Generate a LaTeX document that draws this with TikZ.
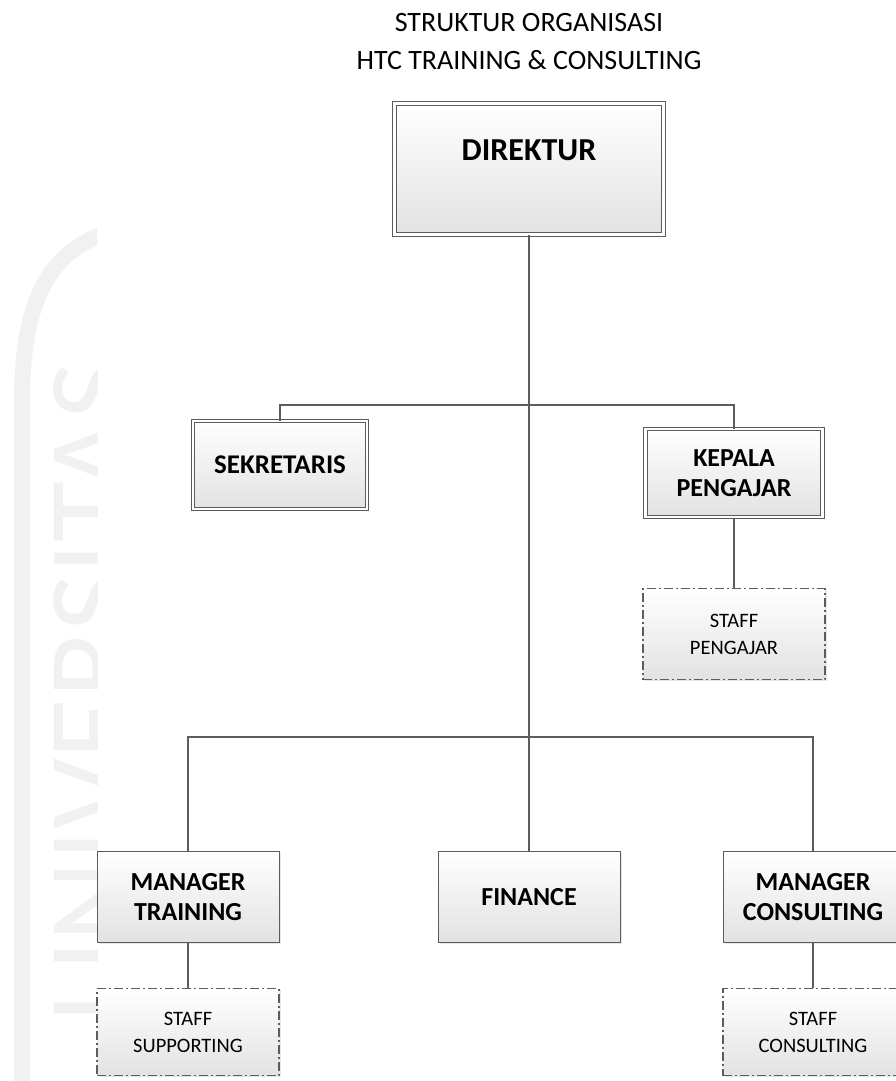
\documentclass[tikz,border=0pt]{standalone}
\usepackage{fontspec}
\setmainfont{Carlito}
\usetikzlibrary{shadows}

\definecolor{linegray}{HTML}{5C5C5C}
\definecolor{boxgray}{HTML}{E2E2E2}
\definecolor{markgray}{HTML}{F1F1F1}

\tikzset{
	unit/.style={draw=linegray, line width=1pt, top color=white, bottom color=boxgray,
		minimum width=182pt, minimum height=91pt, inner sep=0pt, align=center,
		font=\bfseries\fontsize{26}{30}\selectfont,
		drop shadow={shadow xshift=1.5pt, shadow yshift=-1.5pt, opacity=0.2}},
	headunit/.style={unit, double=white, double distance=2.6pt},
	staffunit/.style={unit, font=\fontsize{20.5}{27}\selectfont,
		dash pattern=on 9pt off 3pt on 2pt off 3pt, line width=1.1pt},
	link/.style={draw=linegray, line width=2.2pt}
}

\begin{document}
\begin{tikzpicture}[x=1pt, y=-1pt]
\useasboundingbox (0,0) rectangle (896,1081);

% watermark di tepi kiri
\begin{scope}
	\clip (0,0) rectangle (97,1081);
	\draw[markgray, line width=16pt] (22,1081) -- (22,400)
	.. controls (22,300) and (50,250) .. (110,232);
	\node[rotate=90, anchor=base west, text=markgray,
		font=\fontsize{125}{125}\selectfont] (wmark) at (134,1026) {UNIVERSITAS};
\end{scope}

% judul
\node[font=\fontsize{28}{38}\selectfont, align=center] (judul) at (529,42)
{STRUKTUR ORGANISASI\\HTC TRAINING \& CONSULTING};

% pimpinan
\node[headunit, minimum width=269pt, minimum height=131pt, text depth=38pt,
	font=\bfseries\fontsize{32}{36}\selectfont] (direktur) at (529,169) {DIREKTUR};
\node[headunit, minimum width=174pt, minimum height=88pt,
	font=\bfseries\fontsize{27}{30}\selectfont] (sekretaris) at (280,465) {SEKRETARIS};
\node[headunit, minimum width=177pt, minimum height=88pt]
(kepala) at (734,473) {KEPALA\\PENGAJAR};

% bagian bawah
\node[unit] (mtraining) at (188,897) {MANAGER\\TRAINING};
\node[unit] (finance) at (529,897) {FINANCE};
\node[unit, minimum width=180pt] (mconsulting) at (813,897) {MANAGER\\CONSULTING};

% staff
\node[staffunit] (spengajar) at (734,634) {STAFF\\PENGAJAR};
\node[staffunit, minimum height=87pt] (ssupporting) at (188,1032) {STAFF\\SUPPORTING};
\node[staffunit, minimum width=180pt, minimum height=87pt]
(sconsulting) at (813,1032) {STAFF\\CONSULTING};

% garis
\coordinate (simpul1) at (529,405);
\coordinate (simpul2) at (529,737);
\draw[link] (direktur) -- (finance);
\draw[link] (sekretaris.north) |- (simpul1) -| (kepala.north);
\draw[link] (mtraining.north) |- (simpul2) -| (mconsulting.north);
\draw[link] (kepala) -- (spengajar);
\draw[link] (mtraining) -- (ssupporting);
\draw[link] (mconsulting) -- (sconsulting);
\end{tikzpicture}
\end{document}
